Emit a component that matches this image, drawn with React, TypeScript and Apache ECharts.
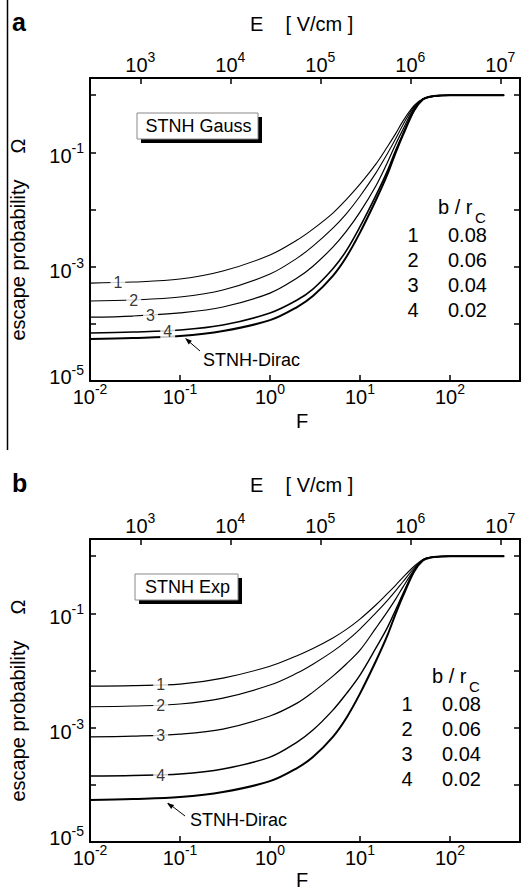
import React, { useEffect, useRef } from 'react';
import * as echarts from 'echarts';

const FONT = "'Liberation Sans', Arial, Helvetica, sans-serif";

// reduced field F (bottom axis)
const F = [0.01, 0.03, 0.1, 0.3, 1, 2, 3, 5, 7, 10, 15, 20, 25, 30, 40, 50, 60, 80, 100, 200, 400];

// panel a: STNH Gauss, b/rc = 0.08, 0.06, 0.04, 0.02
const gauss1 = [5.16e-4, 5.38e-4, 6.07e-4, 8.38e-4, 1.6e-3, 2.92e-3, 4.54e-3, 8.65e-3, 1.48e-2, 2.78e-2, 6.22e-2, 0.123, 0.215, 0.352, 0.662, 0.865, 0.933, 0.989, 1, 1, 1];
const gauss2 = [2.51e-4, 2.61e-4, 2.94e-4, 3.9e-4, 7.43e-4, 1.41e-3, 2.29e-3, 4.73e-3, 8.32e-3, 1.71e-2, 4.33e-2, 9.3e-2, 0.175, 0.302, 0.638, 0.851, 0.93, 0.989, 1, 1, 1];
const gauss3 = [1.31e-4, 1.37e-4, 1.55e-4, 1.97e-4, 3.45e-4, 6.32e-4, 1.02e-3, 2.2e-3, 4.1e-3, 9.0e-3, 2.58e-2, 6.46e-2, 0.14, 0.25, 0.6, 0.85, 0.944, 0.99, 1, 1, 1];
const gauss4 = [6.9e-5, 7.19e-5, 7.8e-5, 9.53e-5, 1.55e-4, 2.61e-4, 4.06e-4, 9.2e-4, 1.87e-3, 5.0e-3, 1.75e-2, 4.6e-2, 0.11, 0.21, 0.56, 0.85, 0.944, 0.99, 1, 1, 1];
// STNH-Dirac (same in both panels)
const dirac = [5.42e-5, 5.65e-5, 6.12e-5, 7.48e-5, 1.16e-4, 1.97e-4, 3.06e-4, 6.93e-4, 1.45e-3, 3.94e-3, 1.45e-2, 3.98e-2, 0.1, 0.2, 0.54, 0.84, 0.94, 0.99, 1, 1, 1];

// panel b: STNH Exp
const exp1 = [5.33e-3, 5.45e-3, 5.78e-3, 7.36e-3, 1.19e-2, 1.82e-2, 2.43e-2, 3.72e-2, 5.19e-2, 7.94e-2, 0.14, 0.219, 0.313, 0.427, 0.668, 0.88, 0.955, 0.99, 1, 1, 1];
const exp2 = [2.32e-3, 2.39e-3, 2.59e-3, 3.29e-3, 5.56e-3, 9.01e-3, 1.29e-2, 2.16e-2, 3.23e-2, 5.32e-2, 0.102, 0.166, 0.25, 0.357, 0.617, 0.86, 0.95, 0.99, 1, 1, 1];
const exp3 = [6.93e-4, 7.13e-4, 7.73e-4, 9.46e-4, 1.6e-3, 2.69e-3, 4.19e-3, 7.98e-3, 1.29e-2, 2.27e-2, 5.51e-2, 0.105, 0.179, 0.288, 0.575, 0.87, 0.95, 0.99, 1, 1, 1];
const exp4 = [1.43e-4, 1.46e-4, 1.55e-4, 1.89e-4, 3.06e-4, 5.6e-4, 9.08e-4, 2.03e-3, 3.87e-3, 8.32e-3, 2.46e-2, 5.51e-2, 0.117, 0.219, 0.56, 0.86, 0.95, 0.99, 1, 1, 1];

// in-line curve labels
const curveLabels = ['1', '2', '3', '4'];
const gaussLabelF = [0.0204, 0.0306, 0.047, 0.073];
const gaussLabelV = [5.25e-4, 2.6e-4, 1.38e-4, 7.3e-5];
const expLabelF = [0.061, 0.061, 0.061, 0.061];
const expLabelV = [5.6e-3, 2.45e-3, 7.35e-4, 1.48e-4];

// legend table
const legendIds = ['1', '2', '3', '4'];
const legendVals = ['0.08', '0.06', '0.04', '0.02'];

// axis ranges
const F_MIN = 0.01;
const F_MAX = 600;
const E_PER_F = 27550; // E [V/cm] per unit F
const Y_MIN = 1e-5;
const Y_MAX = 2;

const rich = {
  b: { fontSize: 20, fontFamily: FONT, color: '#000', lineHeight: 20, padding: [8, 0, 0, 0] },
  s: { fontSize: 14, fontFamily: FONT, color: '#000', lineHeight: 14, padding: [0, 0, 8, 0] },
  bm: { fontSize: 20, fontFamily: FONT, color: '#000', lineHeight: 20, padding: [0, 0, 8, 0] },
  sm: { fontSize: 14, fontFamily: FONT, color: '#000', lineHeight: 14, padding: [0, 0, 22, 0] },
};

function expOf(v: number): number | null {
  const e = Math.log10(v);
  const r = Math.round(e);
  if (Math.abs(e - r) > 1e-6) return null;
  return r;
}
function xLabel(v: number): string {
  const r = expOf(v);
  if (r === null) return '';
  return `{b|10}{s|${r}}`;
}
function yLabel(v: number): string {
  const r = expOf(v);
  if (r === null || r % 2 === 0) return '';
  if (Math.abs(v - Y_MIN) / Y_MIN < 1e-6) return `{bm|10}{sm|${r}}`;
  return `{b|10}{s|${r}}`;
}

const axisLine = { show: true, onZero: false, lineStyle: { color: '#000', width: 2 } };
const axisTick = { show: true, inside: true, length: 6, lineStyle: { color: '#000', width: 1.5 } };

function buildAxes(g: number) {
  const xs = [
    {
      type: 'log', logBase: 10, min: F_MIN, max: F_MAX, gridIndex: g, position: 'bottom',
      axisLine, axisTick, splitLine: { show: false },
      axisLabel: { formatter: xLabel, rich, margin: 2, showMinLabel: true, showMaxLabel: true },
    },
    {
      type: 'log', logBase: 10, min: F_MIN * E_PER_F, max: F_MAX * E_PER_F, gridIndex: g, position: 'top',
      axisLine, axisTick, splitLine: { show: false },
      axisLabel: { formatter: xLabel, rich, margin: 7, showMinLabel: true, showMaxLabel: true },
    },
  ];
  const ys = [
    {
      type: 'log', logBase: 10, min: Y_MIN, max: Y_MAX, gridIndex: g, position: 'left',
      axisLine, axisTick, splitLine: { show: false },
      axisLabel: { formatter: yLabel, rich, margin: 6, showMinLabel: true, showMaxLabel: true },
    },
    {
      type: 'log', logBase: 10, min: Y_MIN, max: Y_MAX, gridIndex: g, position: 'right',
      axisLine, axisTick, splitLine: { show: false }, axisLabel: { show: false },
    },
  ];
  return { xs, ys };
}

function lineSeries(values: number[], axisIdx: number, width: number) {
  return {
    type: 'line',
    xAxisIndex: axisIdx * 2,
    yAxisIndex: axisIdx * 2,
    data: F.map((f, i) => [f, values[i]]),
    showSymbol: false,
    symbol: 'none',
    smooth: 0.35,
    lineStyle: { color: '#000', width },
    silent: true,
    z: 2,
  };
}

function labelSeries(fs: number[], vs: number[], axisIdx: number, extraPadIdx: number) {
  return {
    type: 'scatter',
    xAxisIndex: axisIdx * 2,
    yAxisIndex: axisIdx * 2,
    symbolSize: 1,
    itemStyle: { color: 'rgba(0,0,0,0)' },
    silent: true,
    z: 5,
    data: fs.map((f, i) => ({
      value: [f, vs[i]],
      label: i === extraPadIdx ? { padding: [0, 3, 6, 3] } : undefined,
    })),
    label: {
      show: true,
      position: 'inside',
      formatter: (p: any) => curveLabels[p.dataIndex],
      fontSize: 16,
      fontFamily: FONT,
      color: '#000',
      backgroundColor: '#fff',
      padding: [0, 3],
    },
  };
}

function txt(x: number, y: number, text: string, fontSize: number, opts: any = {}) {
  return {
    type: 'text',
    x,
    y,
    rotation: opts.rotation || 0,
    z: 20,
    style: {
      text,
      fontSize,
      fontFamily: FONT,
      fontWeight: opts.bold ? 'bold' : 'normal',
      fill: '#000',
      textAlign: opts.align || 'left',
      textVerticalAlign: 'middle',
    },
  };
}

function panelGraphics(
  dy: number,
  boxText: string,
  box: { x: number; y: number; w: number; h: number },
  leg: { x: number; y: number },
  arrow: { tail: number[]; tip: number[]; head: number[][]; tx: number; ty: number },
  letter: string,
  fY: number
) {
  const els: any[] = [];
  els.push(txt(12, 22 + dy, letter, 25, { bold: true }));
  els.push(txt(250, 24 + dy, 'E    [ V/cm ]', 20));
  els.push(txt(302, fY + dy, 'F', 20, { align: 'center' }));
  els.push(txt(17.5, 260 + dy, 'escape probability', 20, { align: 'center', rotation: Math.PI / 2 }));
  els.push(txt(17.5, 146 + dy, 'Ω', 20, { align: 'center', rotation: Math.PI / 2 }));
  // shadowed box
  els.push({ type: 'rect', z: 18, shape: { x: box.x + 4, y: box.y + 4 + dy, width: box.w, height: box.h }, style: { fill: '#000' } });
  els.push({ type: 'rect', z: 19, shape: { x: box.x, y: box.y + dy, width: box.w, height: box.h }, style: { fill: '#fff', stroke: '#888', lineWidth: 1 } });
  els.push(txt(box.x + box.w / 2 + 1, box.y + box.h / 2 + dy, boxText, 18, { align: 'center' }));
  // legend table
  els.push(txt(leg.x + 25, leg.y - 28 + dy, 'b / r', 20));
  els.push(txt(leg.x + 62, leg.y - 18 + dy, 'C', 15));
  legendIds.forEach((id, i) => {
    els.push(txt(leg.x, leg.y + i * 25 + dy, id, 20, { align: 'center' }));
    els.push(txt(leg.x + 35, leg.y + i * 25 + dy, legendVals[i], 20));
  });
  // STNH-Dirac arrow
  els.push({ type: 'line', z: 20, shape: { x1: arrow.tail[0], y1: arrow.tail[1] + dy, x2: arrow.tip[0], y2: arrow.tip[1] + dy }, style: { stroke: '#000', lineWidth: 1 } });
  els.push({ type: 'polygon', z: 20, shape: { points: arrow.head.map((p) => [p[0], p[1] + dy]) }, style: { fill: '#000' } });
  els.push(txt(arrow.tx, arrow.ty + dy, 'STNH-Dirac', 18));
  return els;
}

export default function App() {
  const ref = useRef<HTMLDivElement>(null);
  useEffect(() => {
    if (!ref.current) return;
    const chart = echarts.init(ref.current, undefined, { renderer: 'svg' });
    const a = buildAxes(0);
    const b = buildAxes(1);
    const graphic = [
      { type: 'line', z: 20, shape: { x1: 7.5, y1: 0, x2: 7.5, y2: 450 }, style: { stroke: '#000', lineWidth: 1.5 } },
      ...panelGraphics(0, 'STNH Gauss', { x: 137, y: 113, w: 121, h: 26 }, { x: 413, y: 235 },
        { tail: [200, 351], tip: [186, 339], head: [[185, 338], [191.9, 340.7], [188.7, 344.5]], tx: 203, ty: 360 }, 'a', 421),
      ...panelGraphics(461, 'STNH Exp', { x: 135, y: 113, w: 103, h: 26 }, { x: 407, y: 243 },
        { tail: [185, 355], tip: [168, 342], head: [[167, 342], [174.1, 344.1], [171.2, 348.1]], tx: 190, ty: 359 }, 'b', 419),
    ];
    chart.setOption({
      animation: false,
      backgroundColor: '#fff',
      textStyle: { fontFamily: FONT },
      grid: [
        { left: 90, top: 78, width: 432, height: 303 },
        { left: 90, top: 539, width: 432, height: 303 },
      ],
      xAxis: [...a.xs, ...b.xs],
      yAxis: [...a.ys, ...b.ys],
      series: [
        lineSeries(gauss1, 0, 1.1),
        lineSeries(gauss2, 0, 1.1),
        lineSeries(gauss3, 0, 1.2),
        lineSeries(gauss4, 0, 1.6),
        lineSeries(dirac, 0, 2),
        labelSeries(gaussLabelF, gaussLabelV, 0, 3),
        lineSeries(exp1, 1, 1.1),
        lineSeries(exp2, 1, 1.1),
        lineSeries(exp3, 1, 1.2),
        lineSeries(exp4, 1, 1.4),
        lineSeries(dirac, 1, 2),
        labelSeries(expLabelF, expLabelV, 1, -1),
      ],
      graphic,
    });
    return () => chart.dispose();
  }, []);
  return <div ref={ref} style={{ position: 'fixed', left: 0, top: 0, width: 523, height: 890 }} />;
}
